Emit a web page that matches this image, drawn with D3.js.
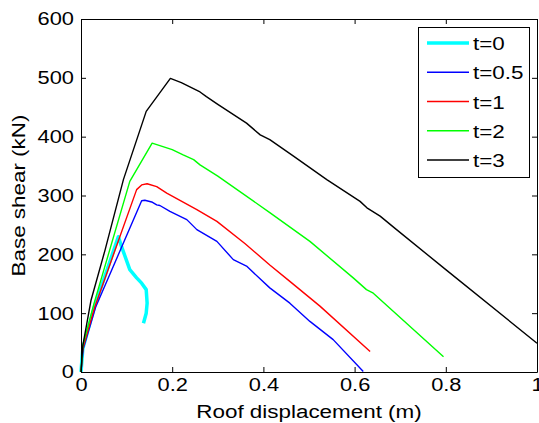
<!DOCTYPE html>
<html>
<head>
<meta charset="utf-8">
<script src="https://cdn.jsdelivr.net/npm/d3@7"></script>
<style>
    body { margin: 0; background: #fff; }
    text { font-family: "Liberation Sans", Arial, sans-serif; fill: #000; }
</style>
</head>
<body>
<div></div>
<script>
// Datos
var labels = ["t=0", "t=0.5", "t=1", "t=2", "t=3"];
var colors = ["#00ffff", "#0000ff", "#ff0000", "#00ff00", "#000000"];

var x_t0 = [0, 0.004, 0.03, 0.082, 0.089, 0.107, 0.122, 0.133, 0.143, 0.145, 0.143, 0.137];
var y_t0 = [0, 40, 112, 230, 213, 174, 160, 151, 140, 117, 100, 83];

var x_t05 = [0, 0.005, 0.032, 0.133, 0.14, 0.155, 0.166, 0.173, 0.195, 0.232, 0.254, 0.298, 0.334, 0.363, 0.414, 0.458, 0.502, 0.553, 0.619];
var y_t05 = [0, 40, 110, 291, 292, 289, 284, 283, 273, 259, 242, 222, 191, 180, 143, 117, 86, 55, 1];

var x_t1 = [0, 0.004, 0.03, 0.122, 0.133, 0.145, 0.166, 0.188, 0.254, 0.298, 0.36, 0.414, 0.458, 0.524, 0.634];
var y_t1 = [0, 40, 110, 310, 318, 320, 315, 304, 276, 256, 218, 182, 154, 112, 35];

var x_t2 = [0, 0.004, 0.028, 0.107, 0.156, 0.2, 0.224, 0.247, 0.261, 0.3, 0.414, 0.502, 0.597, 0.626, 0.641, 0.795];
var y_t2 = [0, 45, 115, 324, 389, 378, 369, 361, 352, 333, 271, 222, 160, 140, 134, 26];

var x_t3 = [0, 0.004, 0.022, 0.053, 0.093, 0.143, 0.196, 0.22, 0.261, 0.275, 0.3, 0.363, 0.393, 0.414, 0.466, 0.539, 0.612, 0.627, 0.656, 0.692, 0.8, 1];
var y_t3 = [0, 45, 122, 208, 327, 443, 499, 492, 476, 468, 455, 423, 403, 395, 367, 327, 290, 279, 265, 242, 174, 49];

var xTicks = [0, 0.2, 0.4, 0.6, 0.8, 1];
var yTicks = [0, 100, 200, 300, 400, 500, 600];

var xs = [x_t0, x_t05, x_t1, x_t2, x_t3];
var ys = [y_t0, y_t05, y_t1, y_t2, y_t3];
var widths = [3.5, 1.4, 1.4, 1.4, 1.4];

var series = labels.map(function(l, i) {
    return {
        label: l,
        color: colors[i],
        width: widths[i],
        points: xs[i].map(function(x, j) { return [x, ys[i][j]]; })
    };
});

// Lienzo
var width = 539;
var height = 423;
var marginleft = 81, margintop = 19, marginright = 537, marginbottom = 372;
var stretch = 1.18; // el texto original es mas ancho

var svg = d3.select('div')
    .append('svg')
    .attr('width', width)
    .attr('height', height);

var xscale = d3.scaleLinear().domain([0, 1]).range([marginleft, marginright]);
var yscale = d3.scaleLinear().domain([0, 600]).range([marginbottom, margintop]);

// Ejes (ticks hacia dentro, estilo MATLAB)
var xaxis = d3.axisBottom(xscale).tickValues(xTicks).tickSizeInner(-5).tickSizeOuter(0).tickPadding(6)
    .tickFormat(d3.format('~g'));
var yaxis = d3.axisLeft(yscale).tickValues(yTicks).tickSizeInner(-5).tickSizeOuter(0).tickPadding(7);
var xtop = d3.axisTop(xscale).tickValues(xTicks).tickSizeInner(-5).tickSizeOuter(0).tickFormat('');
var yright = d3.axisRight(yscale).tickValues(yTicks).tickSizeInner(-5).tickSizeOuter(0).tickFormat('');

// Lineas
var line = d3.line()
    .x(function(d) { return xscale(d[0]); })
    .y(function(d) { return yscale(d[1]); });

svg.selectAll('path.serie')
    .data(series)
    .enter()
    .append('path')
    .attr('class', 'serie')
    .attr('d', function(d) { return line(d.points); })
    .attr('fill', 'none')
    .attr('stroke', function(d) { return d.color; })
    .attr('stroke-width', function(d) { return d.width; })
    .attr('stroke-linejoin', 'round');

var gx = svg.append('g').attr('transform', 'translate(0,' + marginbottom + ')').call(xaxis);
var gy = svg.append('g').attr('transform', 'translate(' + marginleft + ',0)').call(yaxis);
svg.append('g').attr('transform', 'translate(0,' + margintop + ')').call(xtop);
svg.append('g').attr('transform', 'translate(' + marginright + ',0)').call(yright);

svg.selectAll('.domain, .tick line').attr('stroke', '#000').attr('stroke-width', 1);

gx.selectAll('text')
    .attr('font-size', 18.5)
    .attr('font-family', null)
    .attr('x', 0)
    .attr('transform', 'scale(' + stretch + ',1)');

gy.selectAll('text')
    .attr('font-size', 18.5)
    .attr('font-family', null)
    .attr('x', 0)
    .attr('transform', 'translate(-7,0) scale(' + stretch + ',1)');

// Titulos de ejes
svg.append('text')
    .attr('transform', 'translate(' + ((marginleft + marginright) / 2) + ',418) scale(' + stretch + ',1)')
    .attr('text-anchor', 'middle')
    .style('font-size', '19px')
    .text('Roof displacement (m)');

svg.append('text')
    .attr('transform', 'translate(25,' + ((margintop + marginbottom) / 2) + ') rotate(-90) scale(' + stretch + ',1)')
    .attr('text-anchor', 'middle')
    .style('font-size', '19px')
    .text('Base shear (kN)');

// Leyenda
var legend = svg.append('g');
legend.append('rect')
    .attr('x', 418.5)
    .attr('y', 27.5)
    .attr('width', 111)
    .attr('height', 150)
    .attr('fill', '#fff')
    .attr('stroke', '#000')
    .attr('stroke-width', 1);

var rowY = d3.scalePoint().domain(labels).range([43, 160]);

var item = legend.selectAll('g.item')
    .data(series)
    .enter()
    .append('g')
    .attr('class', 'item')
    .attr('transform', function(d) { return 'translate(0,' + rowY(d.label) + ')'; });

item.append('line')
    .attr('x1', 427)
    .attr('x2', 469)
    .attr('stroke', function(d) { return d.color; })
    .attr('stroke-width', function(d) { return d.width; });

item.append('text')
    .attr('transform', 'translate(473,7) scale(' + stretch + ',1)')
    .style('font-size', '19px')
    .text(function(d) { return d.label; });
</script>
</body>
</html>
